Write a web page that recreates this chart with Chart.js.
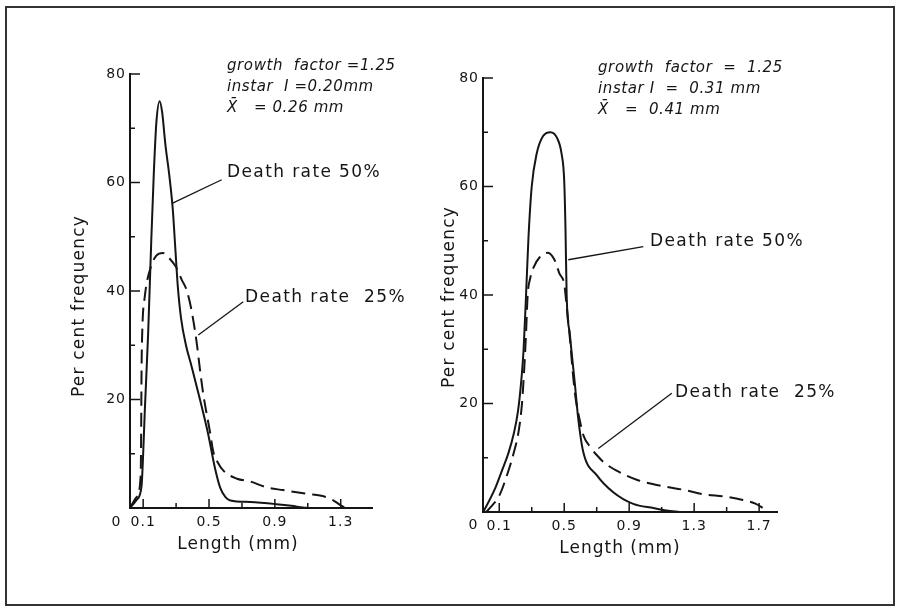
<!DOCTYPE html>
<html>
<head>
<meta charset="utf-8">
<title>Length frequency distributions</title>
<script src="https://cdn.jsdelivr.net/npm/chart.js@4.4.1/dist/chart.umd.min.js"></script>
<style>
  html, body { margin: 0; padding: 0; background: #fff; }
  body { width: 900px; height: 611px; position: relative; overflow: hidden; }
  #frame { position: absolute; left: 5px; top: 6px; width: 890px; height: 600px;
           border: 2px solid #333; box-sizing: border-box; }
  canvas { position: absolute; top: 0; }
  #leftChart { left: 0; }
  #rightChart { left: 420px; }
</style>
</head>
<body>
<div id="frame"></div>
<canvas id="leftChart" width="440" height="611"></canvas>
<canvas id="rightChart" width="480" height="611"></canvas>
<script>
// growth factor 1.25, instar I = 0.20 mm
const leftLength50 = [0.02, 0.06, 0.09, 0.1, 0.11, 0.13, 0.15, 0.165, 0.18, 0.2, 0.215, 0.235, 0.26, 0.28, 0.295, 0.31, 0.33, 0.36, 0.395, 0.445, 0.495, 0.535, 0.567, 0.6, 0.63, 0.75, 0.91, 1.0, 1.07, 1.1];
const leftFreq50   = [0, 1.5, 4, 10, 18, 32, 50, 62, 71, 75, 73, 67, 61, 55, 48, 41, 35, 30, 26, 20, 13.6, 7.5, 3.8, 2, 1.4, 1.1, 0.7, 0.4, 0.1, 0];
const leftLength25 = [0.02, 0.06, 0.085, 0.088, 0.09, 0.095, 0.11, 0.14, 0.18, 0.22, 0.26, 0.3, 0.335, 0.36, 0.39, 0.425, 0.445, 0.465, 0.506, 0.525, 0.555, 0.59, 0.67, 0.75, 0.85, 0.95, 1.1, 1.19, 1.25, 1.3, 1.33];
const leftFreq25   = [0, 2, 6, 15, 25, 33, 39, 43.8, 46.5, 47, 46, 44.4, 42, 40.5, 37, 30.5, 25.5, 21, 14, 10.5, 8.3, 6.8, 5.4, 4.9, 3.8, 3.3, 2.6, 2.2, 1.5, 0.5, 0];
const leftXTicks   = [0.1, 0.3, 0.5, 0.7, 0.9, 1.1, 1.3];
const leftXLabels  = [0.1, 0.5, 0.9, 1.3];

// growth factor 1.25, instar I = 0.31 mm
const rightLength50 = [0, 0.012, 0.074, 0.115, 0.156, 0.19, 0.215, 0.235, 0.25, 0.265, 0.28, 0.3, 0.33, 0.37, 0.415, 0.455, 0.484, 0.5, 0.508, 0.515, 0.535, 0.566, 0.586, 0.617, 0.7, 0.8, 0.925, 1.05, 1.13, 1.21];
const rightFreq50   = [0, 0.6, 4.3, 7.5, 10.8, 14.5, 18.5, 24, 30, 40, 50.6, 60, 66, 69.3, 70, 69, 66, 61, 52, 40, 32.7, 23.5, 17.3, 11.1, 6.8, 3.7, 1.5, 0.74, 0.3, 0];
const rightLength25 = [0.02, 0.05, 0.1, 0.15, 0.19, 0.22, 0.24, 0.255, 0.265, 0.275, 0.29, 0.31, 0.35, 0.4, 0.44, 0.47, 0.5, 0.515, 0.535, 0.555, 0.57, 0.595, 0.62, 0.66, 0.7, 0.75, 0.85, 0.95, 1.1, 1.25, 1.35, 1.5, 1.6, 1.68, 1.72, 1.76];
const rightFreq25   = [0, 1, 3, 7, 11, 15, 20, 27, 33, 40, 43, 45, 47, 47.8, 46.5, 44, 42, 38, 32, 25, 21, 17, 14, 12, 10.5, 9, 7.2, 5.9, 4.8, 4, 3.3, 2.8, 2.2, 1.5, 0.8, 0];
const rightXTicks   = [0.1, 0.3, 0.5, 0.7, 0.9, 1.1, 1.3, 1.5, 1.7];
const rightXLabels  = [0.1, 0.5, 0.9, 1.3, 1.7];

const yTicks  = [0, 10, 20, 30, 40, 50, 60, 70, 80];
const yLabels = [20, 40, 60, 80];

const INK = '#151515';
const FAMILY = '"DejaVu Sans", sans-serif';

const panels = [
  {
    canvas: 'leftChart',
    len50: leftLength50, freq50: leftFreq50, len25: leftLength25, freq25: leftFreq25,
    xMin: 0.02, xMax: 1.49, xTicks: leftXTicks, xLabels: leftXLabels,
    padding: { left: 0, top: 74, right: 68, bottom: 43 }, yWidth: 130,
    yTitle: [-50, 15], xTitle: [-13, 37], zero: [-14, 14],
    notes: { at: [0.609, 81.5], lines: ['growth  factor =1.25', 'instar  I =0.20mm', 'X\u0304   = 0.26 mm'], step: 3.9 },
    tags: [
      { text: 'Death rate 50%', at: [0.609, 61.75], from: [0.279, 56.2], to: [0.577, 60.5] },
      { text: 'Death rate  25%', at: [0.719, 38.7], from: [0.435, 31.9], to: [0.708, 38.0] }
    ]
  },
  {
    canvas: 'rightChart',
    len50: rightLength50, freq50: rightFreq50, len25: rightLength25, freq25: rightFreq25,
    xMin: 0, xMax: 1.81, xTicks: rightXTicks, xLabels: rightXLabels,
    padding: { left: 0, top: 78, right: 123, bottom: 39 }, yWidth: 63,
    yTitle: [-33, 2], xTitle: [-10, 37], zero: [-10, 13],
    notes: { at: [0.708, 81.8], lines: ['growth  factor  =  1.25', 'instar I  =  0.31 mm', 'X\u0304   =  0.41 mm'], step: 3.85 },
    tags: [
      { text: 'Death rate 50%', at: [1.028, 49.8], from: [0.525, 46.5], to: [0.987, 48.9] },
      { text: 'Death rate  25%', at: [1.182, 22.1], from: [0.71, 11.7], to: [1.162, 21.9] }
    ]
  }
];

function toPoints(xs, ys) {
  return xs.map((x, i) => ({ x: x, y: ys[i] }));
}

function strokeLine(ctx, x1, y1, x2, y2) {
  ctx.beginPath();
  ctx.moveTo(x1, y1);
  ctx.lineTo(x2, y2);
  ctx.stroke();
}

function textAt(ctx, text, x, y, font, spacing) {
  ctx.font = font;
  ctx.letterSpacing = spacing;
  ctx.fillText(text, x, y);
}

// inward ticks, axis titles and the hand-lettered notes
function extrasPlugin(panel) {
  return {
    id: 'extras',
    beforeDraw(chart) {
      // stencil lettering is a little wider than the plain font
      chart.ctx.letterSpacing = '1px';
    },
    afterDraw(chart) {
      const ctx = chart.ctx;
      const xs = chart.scales.x, ys = chart.scales.y;
      const area = chart.chartArea;
      const px = v => xs.getPixelForValue(v);
      const py = v => ys.getPixelForValue(v);
      ctx.save();
      ctx.strokeStyle = INK;
      ctx.fillStyle = INK;
      ctx.lineWidth = 1.5;

      ys.ticks.forEach(t => {
        if (t.value === 0) return;
        const len = yLabels.includes(t.value) ? 10 : 5;
        strokeLine(ctx, area.left, py(t.value), area.left + len, py(t.value));
      });
      xs.ticks.forEach(t => {
        const len = panel.xLabels.includes(t.value) ? 9 : 5;
        strokeLine(ctx, px(t.value), area.bottom, px(t.value), area.bottom - len);
      });

      ctx.textBaseline = 'middle';
      ctx.textAlign = 'center';
      textAt(ctx, '0', area.left + panel.zero[0], area.bottom + panel.zero[1], '14px ' + FAMILY, '0px');
      textAt(ctx, 'Length (mm)', (area.left + area.right) / 2 + panel.xTitle[0], area.bottom + panel.xTitle[1], '17px ' + FAMILY, '1px');

      ctx.save();
      ctx.translate(area.left + panel.yTitle[0], (area.top + area.bottom) / 2 + panel.yTitle[1]);
      ctx.rotate(-Math.PI / 2);
      textAt(ctx, 'Per cent frequency', 0, 0, '17px ' + FAMILY, '1.2px');
      ctx.restore();

      ctx.textAlign = 'left';
      panel.notes.lines.forEach((line, i) => {
        textAt(ctx, line, px(panel.notes.at[0]), py(panel.notes.at[1] - i * panel.notes.step), 'italic 15px ' + FAMILY, '0.6px');
      });

      ctx.lineWidth = 1.3;
      panel.tags.forEach(tag => {
        strokeLine(ctx, px(tag.from[0]), py(tag.from[1]), px(tag.to[0]), py(tag.to[1]));
        textAt(ctx, tag.text, px(tag.at[0]), py(tag.at[1]), '17px ' + FAMILY, '1.4px');
      });
      ctx.restore();
    }
  };
}

function buildChart(panel) {
  const tickFont = { family: FAMILY, size: 14 };
  const curve = {
    borderColor: INK,
    borderWidth: 2,
    pointRadius: 0,
    fill: false,
    cubicInterpolationMode: 'monotone'
  };
  return new Chart(document.getElementById(panel.canvas), {
    type: 'line',
    data: {
      datasets: [
        Object.assign({ label: 'Death rate 50%', data: toPoints(panel.len50, panel.freq50) }, curve),
        Object.assign({ label: 'Death rate 25%', data: toPoints(panel.len25, panel.freq25), borderDash: [14, 7] }, curve)
      ]
    },
    options: {
      responsive: false,
      animation: false,
      devicePixelRatio: 1,
      layout: { padding: panel.padding },
      plugins: { legend: { display: false }, tooltip: { enabled: false } },
      scales: {
        x: {
          type: 'linear',
          min: panel.xMin,
          max: panel.xMax,
          afterBuildTicks: s => { s.ticks = panel.xTicks.map(v => ({ value: v })); },
          afterFit: s => { s.height = 60; },
          grid: { display: false, drawTicks: false },
          border: { display: true, color: INK, width: 2 },
          ticks: {
            autoSkip: false, maxRotation: 0, padding: 6, font: tickFont, color: INK,
            callback: v => panel.xLabels.includes(v) ? v.toFixed(1) : ''
          }
        },
        y: {
          min: 0,
          max: 80,
          afterBuildTicks: s => { s.ticks = yTicks.map(v => ({ value: v })); },
          afterFit: s => { s.width = panel.yWidth; },
          grid: { display: false, drawTicks: false },
          border: { display: true, color: INK, width: 2 },
          ticks: {
            autoSkip: false, padding: 4, font: tickFont, color: INK,
            callback: v => yLabels.includes(v) ? String(v) : ''
          }
        }
      }
    },
    plugins: [extrasPlugin(panel)]
  });
}

panels.forEach(buildChart);
</script>
</body>
</html>
